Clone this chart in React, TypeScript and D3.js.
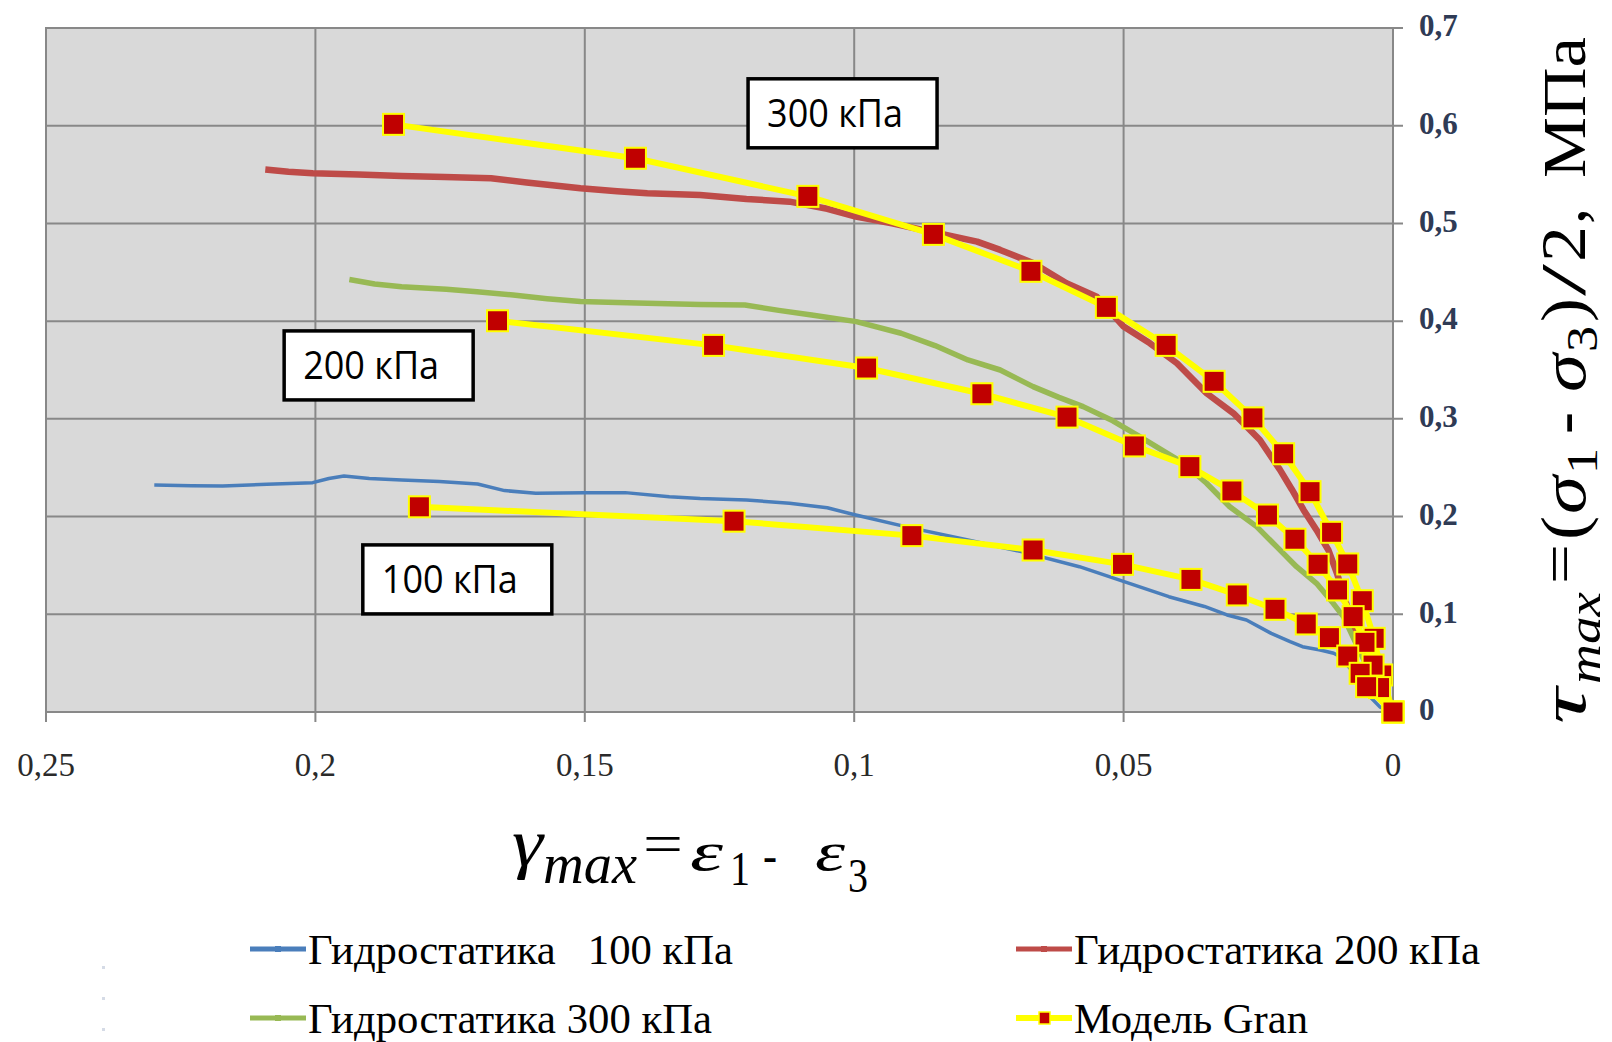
import React from 'react';
import * as d3 from 'd3';

const W = 1612;
const H = 1042;

// ---- data ----
const xTicks = [0.25, 0.2, 0.15, 0.1, 0.05, 0];
const yTicks = [0, 0.1, 0.2, 0.3, 0.4, 0.5, 0.6, 0.7];

const hydro100: [number, number][] = [
  [0.2299, 0.2323], [0.2230, 0.2315], [0.2172, 0.2313], [0.2090, 0.2330], [0.2005, 0.2347],
  [0.1975, 0.2390], [0.1947, 0.2416], [0.1900, 0.2390], [0.1840, 0.2375], [0.1770, 0.2360],
  [0.1699, 0.2334], [0.1649, 0.2266], [0.1591, 0.2239], [0.1500, 0.2245], [0.1425, 0.2245],
  [0.1343, 0.2204], [0.1286, 0.2184], [0.1200, 0.2170], [0.1120, 0.2136], [0.1050, 0.2090],
  [0.0997, 0.2016], [0.0905, 0.1897], [0.0789, 0.1760], [0.0690, 0.1641], [0.0582, 0.1487],
  [0.0499, 0.1334], [0.0416, 0.1180], [0.0350, 0.1080], [0.0308, 0.0993], [0.0272, 0.0942],
  [0.0226, 0.0805], [0.0191, 0.0720], [0.0168, 0.0668], [0.0135, 0.0635], [0.0110, 0.0601],
  [0.0098, 0.0566], [0.0067, 0.0361], [0.0049, 0.0191], [0.0024, 0.0050], [0, 0],
];

const hydro200: [number, number][] = [
  [0.2093, 0.5552], [0.2050, 0.5530], [0.2005, 0.5513], [0.1920, 0.5500], [0.1840, 0.5486],
  [0.1760, 0.5475], [0.1674, 0.5462], [0.1608, 0.5418], [0.1508, 0.5360], [0.1440, 0.5330],
  [0.1384, 0.5309], [0.1286, 0.5290], [0.1200, 0.5250], [0.1120, 0.5223], [0.1050, 0.5150],
  [0.0997, 0.5070], [0.0930, 0.5000], [0.0872, 0.4933], [0.0772, 0.4814], [0.0729, 0.4729],
  [0.0668, 0.4595], [0.0606, 0.4388], [0.0550, 0.4251], [0.0500, 0.3944], [0.0451, 0.3773],
  [0.0401, 0.3569], [0.0346, 0.3262], [0.0296, 0.3057], [0.0247, 0.2784], [0.0210, 0.2480],
  [0.0188, 0.2280], [0.0166, 0.2068], [0.0142, 0.1863], [0.0120, 0.1658], [0.0104, 0.1420],
  [0.0089, 0.1146], [0.0065, 0.0750], [0.0042, 0.0450], [0.0020, 0.0180], [0, 0],
];

const hydro300: [number, number][] = [
  [0.1937, 0.4426], [0.1890, 0.4380], [0.1840, 0.4353], [0.1757, 0.4326], [0.1700, 0.4300],
  [0.1633, 0.4268], [0.1570, 0.4230], [0.1508, 0.4200], [0.1440, 0.4190], [0.1384, 0.4183],
  [0.1286, 0.4170], [0.1203, 0.4166], [0.1140, 0.4110], [0.1079, 0.4063], [0.0996, 0.3995],
  [0.0913, 0.3876], [0.0850, 0.3750], [0.0789, 0.3603], [0.0729, 0.3500], [0.0668, 0.3330],
  [0.0620, 0.3220], [0.0575, 0.3125], [0.0520, 0.2980], [0.0470, 0.2818], [0.0389, 0.2546],
  [0.0346, 0.2341], [0.0303, 0.2101], [0.0253, 0.1897], [0.0216, 0.1692], [0.0179, 0.1487],
  [0.0142, 0.1317], [0.0111, 0.1112], [0.0092, 0.0976], [0.0060, 0.0600], [0.0030, 0.0250], [0, 0],
];

const model300: [number, number][] = [
  [0.1855, 0.6014], [0.1406, 0.5667], [0.1086, 0.5277], [0.0853, 0.4888], [0.0672, 0.4510],
  [0.0532, 0.4141], [0.0421, 0.3752], [0.0332, 0.3384], [0.0260, 0.3010], [0.0203, 0.2643],
  [0.0154, 0.2255], [0.0114, 0.1839], [0.0084, 0.1515], [0.0057, 0.1139], [0.0035, 0.0754],
  [0.0021, 0.0379], [0, 0],
];

const model200: [number, number][] = [
  [0.1662, 0.4004], [0.1261, 0.3752], [0.0977, 0.3520], [0.0763, 0.3257], [0.0605, 0.3018],
  [0.0480, 0.2723], [0.0377, 0.2511], [0.0299, 0.2262], [0.0233, 0.2016], [0.0182, 0.1768],
  [0.0139, 0.1512], [0.0103, 0.1249], [0.0074, 0.0976], [0.0052, 0.0713], [0.0037, 0.0480],
  [0.0025, 0.0250], [0, 0],
];

const model100: [number, number][] = [
  [0.1807, 0.2100], [0.1223, 0.1953], [0.0893, 0.1805], [0.0668, 0.1658], [0.0502, 0.1511],
  [0.0375, 0.1357], [0.0289, 0.1198], [0.0219, 0.1051], [0.0161, 0.0901], [0.0118, 0.0761],
  [0.0084, 0.0573], [0.0061, 0.0396], [0.0049, 0.0259], [0, 0],
];

// annotation boxes: top-left corner in data units
const annotations = [
  { label: '300 кПа', x: 0.1197, y: 0.648 },
  { label: '200 кПа', x: 0.2058, y: 0.390 },
  { label: '100 кПа', x: 0.1912, y: 0.171 },
];

const legendLabels = ['Гидростатика   100 кПа', 'Гидростатика 200 кПа', 'Гидростатика 300 кПа', 'Модель Gran'];

const COLORS = {
  blue: '#4a7ebb',
  red: '#be4b48',
  green: '#98b954',
  yellow: '#ffff00',
  marker: '#c00000',
  bg: '#d9d9d9',
  grid: '#888888',
};

const SERIF = '"Liberation Serif", "DejaVu Serif", "Times New Roman", serif';
const SANS = '"Open Sans", "Noto Sans", "Liberation Sans", sans-serif';

export default function App() {
  const L = 46, R = 1393, T = 28, B = 712;
  const x = d3.scaleLinear().domain([0.25, 0]).range([L, R]);
  const y = d3.scaleLinear().domain([0, 0.7]).range([B, T]);
  const line = d3.line<[number, number]>().x(d => x(d[0])).y(d => y(d[1]));
  const fmt = (v: number) => (v === 0 ? '0' : String(+v.toFixed(2)).replace('.', ','));

  const hydro = [
    { data: hydro100, color: COLORS.blue, w: 3.5 },
    { data: hydro200, color: COLORS.red, w: 6.5 },
    { data: hydro300, color: COLORS.green, w: 5.5 },
  ];
  const models = [model300, model200, model100];
  const MS = 21;

  const boxW = 189, boxH = 69;

  const legendPos = [
    { lx: 250, tx: 308, y: 949, tl: 425, color: COLORS.blue, model: false },
    { lx: 1016, tx: 1074, y: 949, tl: 406, color: COLORS.red, model: false },
    { lx: 250, tx: 308, y: 1018, tl: 404, color: COLORS.green, model: false },
    { lx: 1016, tx: 1074, y: 1018, tl: 234, color: COLORS.yellow, model: true },
  ];

  return (
    <svg width={W} height={H} style={{ position: 'absolute', left: 0, top: 0, background: '#fff' }}>
      <rect x={0} y={0} width={W} height={H} fill="#fff" />
      {/* plot area */}
      <rect x={L} y={T} width={R - L} height={B - T} fill={COLORS.bg} />
      {xTicks.map(t => (
        <line key={'gx' + t} x1={x(t)} x2={x(t)} y1={T} y2={B + 10} stroke={COLORS.grid} strokeWidth={2} />
      ))}
      {yTicks.map(t => (
        <line key={'gy' + t} x1={L} x2={R + 10} y1={y(t)} y2={y(t)} stroke={COLORS.grid} strokeWidth={2} />
      ))}
      <rect x={L} y={T} width={R - L} height={B - T} fill="none" stroke={COLORS.grid} strokeWidth={2} />

      {/* x tick labels */}
      {xTicks.map(t => (
        <text key={'xl' + t} x={x(t)} y={776} textAnchor="middle" fontFamily={SERIF} fontSize={33} fill="#2a2a2a">
          {fmt(t)}
        </text>
      ))}
      {/* y tick labels */}
      {yTicks.map(t => (
        <text key={'yl' + t} x={1419} y={y(t) - 2} dy="0.33em" fontFamily={SERIF} fontSize={31} fontWeight="bold" fill="#2f3b55">
          {fmt(t)}
        </text>
      ))}

      {/* experimental curves */}
      {hydro.map((s, i) => (
        <path key={'h' + i} d={line(s.data) || ''} fill="none" stroke={s.color} strokeWidth={s.w} strokeLinejoin="round" />
      ))}

      {/* model curves */}
      {models.map((m, i) => (
        <path key={'m' + i} d={line(m) || ''} fill="none" stroke={COLORS.yellow} strokeWidth={6} strokeLinejoin="round" />
      ))}
      {models.map((m, i) =>
        m.map((d, j) => (
          <rect key={'mk' + i + '-' + j} x={x(d[0]) - MS / 2} y={y(d[1]) - MS / 2} width={MS} height={MS}
            fill={COLORS.marker} stroke={COLORS.yellow} strokeWidth={2} />
        ))
      )}

      {/* annotations */}
      {annotations.map(a => (
        <g key={a.label}>
          <rect x={x(a.x)} y={y(a.y)} width={boxW} height={boxH} fill="#fff" stroke="#000" strokeWidth={3.5} />
          <text x={x(a.x) + 19} y={y(a.y) + 48} fontFamily={SANS} fontSize={38} fill="#000" textLength={136} lengthAdjust="spacingAndGlyphs">
            {a.label}
          </text>
        </g>
      ))}

      {/* x axis title */}
      <g fontFamily={SERIF} fill="#000">
        <text x={512} y={866} fontStyle="italic" fontSize={68} textLength={31} lengthAdjust="spacingAndGlyphs">γ</text>
        <text x={543} y={883} fontStyle="italic" fontSize={56} textLength={94} lengthAdjust="spacingAndGlyphs">max</text>
        <text x={643} y={863} fontSize={58} textLength={40} lengthAdjust="spacingAndGlyphs">=</text>
        <text x={690} y={870} fontStyle="italic" fontSize={54} textLength={33} lengthAdjust="spacingAndGlyphs">ε</text>
        <text x={730} y={885} fontSize={48} textLength={20} lengthAdjust="spacingAndGlyphs">1</text>
        <text x={763} y={872} fontSize={48} textLength={14} lengthAdjust="spacingAndGlyphs">-</text>
        <text x={815} y={870} fontStyle="italic" fontSize={54} textLength={30} lengthAdjust="spacingAndGlyphs">ε</text>
        <text x={848} y={892} fontSize={48} textLength={20} lengthAdjust="spacingAndGlyphs">3</text>
      </g>

      {/* y axis title, rotated */}
      <g transform="translate(1585,724) rotate(-90)" fontFamily={SERIF} fill="#000">
        <text x={0} y={0} fontStyle="italic" fontSize={64} textLength={36} lengthAdjust="spacingAndGlyphs">τ</text>
        <text x={40} y={15} fontStyle="italic" fontSize={46} textLength={92} lengthAdjust="spacingAndGlyphs">max</text>
        <text x={140} y={-6} fontSize={58} textLength={40} lengthAdjust="spacingAndGlyphs">=</text>
        <text x={184} y={0} fontSize={64} textLength={24} lengthAdjust="spacingAndGlyphs">(</text>
        <text x={210} y={0} fontStyle="italic" fontSize={64} textLength={38} lengthAdjust="spacingAndGlyphs">σ</text>
        <text x={250} y={12} fontSize={44} textLength={26} lengthAdjust="spacingAndGlyphs">1</text>
        <text x={290} y={0} fontSize={64} textLength={22} lengthAdjust="spacingAndGlyphs">-</text>
        <text x={332} y={0} fontStyle="italic" fontSize={64} textLength={38} lengthAdjust="spacingAndGlyphs">σ</text>
        <text x={372} y={12} fontSize={44} textLength={26} lengthAdjust="spacingAndGlyphs">3</text>
        <text x={402} y={0} fontSize={64} textLength={24} lengthAdjust="spacingAndGlyphs">)</text>
        <text x={428} y={0} fontSize={64} textLength={32} lengthAdjust="spacingAndGlyphs">/</text>
        <text x={462} y={0} fontSize={64} textLength={36} lengthAdjust="spacingAndGlyphs">2</text>
        <text x={500} y={0} fontSize={64} textLength={16} lengthAdjust="spacingAndGlyphs">,</text>
        <text x={546} y={0} fontSize={62} textLength={141} lengthAdjust="spacingAndGlyphs">МПа</text>
      </g>

      {/* legend */}
      {legendPos.map((p, i) => (
        <g key={'lg' + i}>
          <line x1={p.lx} x2={p.lx + 56} y1={p.y} y2={p.y} stroke={p.color} strokeWidth={p.model ? 6 : 5} />
          {p.model ? (
            <rect x={p.lx + 23} y={p.y - 6} width={11} height={12} fill={COLORS.marker} stroke={COLORS.yellow} strokeWidth={1.5} />
          ) : (
            <rect x={p.lx + 25} y={p.y - 3} width={6} height={6} fill={p.color} />
          )}
          <text x={p.tx} y={p.y + 15} fontFamily={SERIF} fontSize={42} fill="#000" textLength={p.tl}
            lengthAdjust="spacingAndGlyphs" style={{ whiteSpace: 'pre' }}>
            {legendLabels[i]}
          </text>
        </g>
      ))}
      {/* faint dots at left */}
      {[966, 997, 1028].map(v => (
        <rect key={'dot' + v} x={102} y={v} width={3} height={3} fill="#d5dbe6" />
      ))}
    </svg>
  );
}
